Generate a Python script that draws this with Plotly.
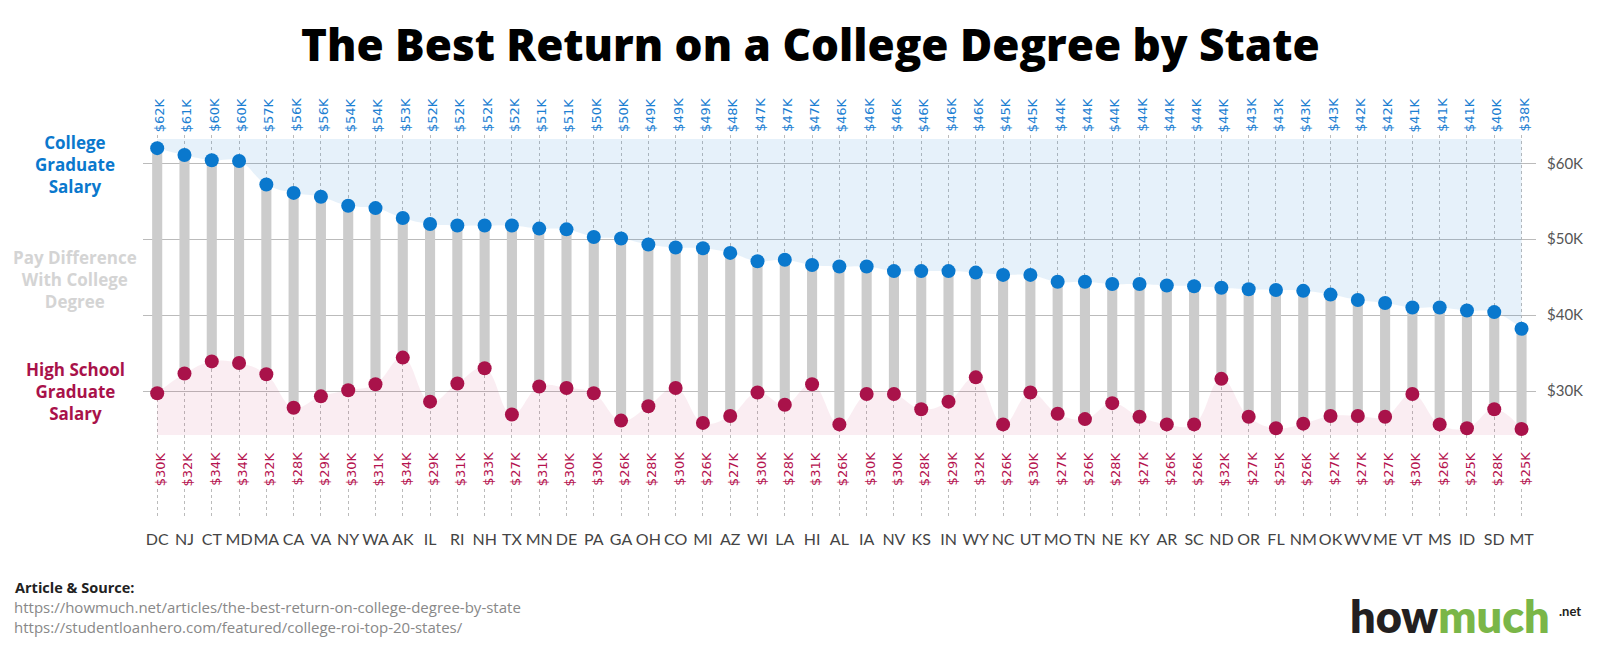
import plotly.graph_objects as go

states = ["DC", "NJ", "CT", "MD", "MA", "CA", "VA", "NY", "WA", "AK", "IL", "RI", "NH",
          "TX", "MN", "DE", "PA", "GA", "OH", "CO", "MI", "AZ", "WI", "LA", "HI", "AL",
          "IA", "NV", "KS", "IN", "WY", "NC", "UT", "MO", "TN", "NE", "KY", "AR", "SC",
          "ND", "OR", "FL", "NM", "OK", "WV", "ME", "VT", "MS", "ID", "SD", "MT"]

# salaries in $K
college = [62.0, 61.1, 60.4, 60.3, 57.2, 56.1, 55.6, 54.4, 54.1, 52.8, 52.0, 51.8, 51.8,
           51.8, 51.4, 51.3, 50.3, 50.1, 49.3, 48.9, 48.8, 48.2, 47.1, 47.3, 46.6, 46.4,
           46.4, 45.8, 45.8, 45.8, 45.6, 45.3, 45.3, 44.4, 44.4, 44.1, 44.1, 43.9, 43.8,
           43.6, 43.4, 43.3, 43.2, 42.7, 42.0, 41.6, 41.0, 41.0, 40.6, 40.4, 38.2]

high_school = [29.7, 32.3, 33.9, 33.7, 32.2, 27.8, 29.3, 30.1, 30.9, 34.4, 28.6, 31.0, 33.0,
               26.9, 30.6, 30.4, 29.7, 26.1, 28.0, 30.4, 25.8, 26.7, 29.8, 28.2, 30.9, 25.6,
               29.6, 29.6, 27.6, 28.6, 31.8, 25.6, 29.8, 27.0, 26.3, 28.4, 26.6, 25.6, 25.6,
               31.6, 26.6, 25.1, 25.7, 26.7, 26.7, 26.6, 29.6, 25.6, 25.1, 27.6, 25.0]

y_ticks = [30, 40, 50, 60]
y_tick_text = ["$30K", "$40K", "$50K", "$60K"]

sources = ["https://howmuch.net/articles/the-best-return-on-college-degree-by-state",
           "https://studentloanhero.com/featured/college-roi-top-20-states/"]

BLUE = "#0a78cd"
RED = "#a9124a"
W, H = 1600, 650
L, R, T, B = 143, 64, 135, 132
Y_TOP, Y_BOT = 63.73, 13.27


def py(p):
    # pixel row -> paper fraction
    return (H - B - p) / (H - T - B)


def px(p):
    return (p - L) / (W - L - R)


fig = go.Figure()

# light blue band above the college salaries
fig.add_trace(go.Scatter(x=states, y=[63.2] * len(states), mode="lines",
                         line=dict(width=0), hoverinfo="skip", showlegend=False))
fig.add_trace(go.Scatter(x=states, y=college, mode="lines", fill="tonexty",
                         fillcolor="rgba(30,130,210,0.11)",
                         line=dict(width=0, shape="spline", smoothing=1.2),
                         hoverinfo="skip", showlegend=False))

# pink band below the high school salaries
fig.add_trace(go.Scatter(x=states, y=[24.2] * len(states), mode="lines",
                         line=dict(width=0), hoverinfo="skip", showlegend=False))
fig.add_trace(go.Scatter(x=states, y=high_school, mode="lines", fill="tonexty",
                         fillcolor="rgba(190,30,90,0.08)",
                         line=dict(width=0, shape="spline", smoothing=1.2),
                         hoverinfo="skip", showlegend=False))

# pay difference bars
fig.add_trace(go.Bar(x=states, y=[c - h for c, h in zip(college, high_school)],
                     base=high_school, width=0.37, marker_color="#cccccc",
                     marker_line_width=0, showlegend=False))

fig.add_trace(go.Scatter(x=states, y=college, mode="markers",
                         marker=dict(size=14, color=BLUE), showlegend=False))
fig.add_trace(go.Scatter(x=states, y=high_school, mode="markers",
                         marker=dict(size=14, color=RED), showlegend=False))

ann = []
for s, c, h in zip(states, college, high_school):
    ann.append(dict(x=s, y=py(115), xref="x", yref="paper", text=f"${c:.0f}K",
                    textangle=-90, showarrow=False, xshift=3, yanchor="middle",
                    font=dict(family="DejaVu Sans", size=13, color="#1c80d2")))
    ann.append(dict(x=s, y=py(469), xref="x", yref="paper", text=f"${h:.0f}K",
                    textangle=-90, showarrow=False, xshift=3, yanchor="middle",
                    bgcolor="white", borderpad=0,
                    font=dict(family="DejaVu Sans", size=13, color="#b5134f")))

side_font = dict(family="Open Sans", size=17, weight=700)


def note(x, y, text, font, xanchor="center", align="center"):
    return dict(x=px(x), y=py(y), xref="paper", yref="paper", showarrow=False,
                xanchor=xanchor, yanchor="middle", align=align, text=text, font=font)


ann += [
    note(75, 165, "College<br>Graduate<br>Salary", dict(side_font, color=BLUE)),
    note(75, 279, "Pay Difference<br>With College<br>Degree", dict(side_font, color="#d4d4d4")),
    note(75, 391, "High School<br>Graduate<br>Salary", dict(side_font, color=RED)),
    note(810, 44, "The Best Return on a College Degree by State",
         dict(family="Open Sans", size=44, weight=800, color="#000000")),
    note(13, 587, "<b>Article & Source:</b>",
         dict(family="Open Sans", size=14.5, color="#222222"), xanchor="left"),
    note(12, 617, "<br>".join(sources),
         dict(family="Open Sans", size=15, color="#888888"), xanchor="left", align="left"),
    note(1552, 616, "<span style='color:#231f20'>how</span><span style='color:#7ab648'>much</span>",
         dict(family="Lato", size=45, weight=800), xanchor="right"),
    note(1557, 611, ".net", dict(family="Lato", size=13, weight=700, color="#231f20"),
         xanchor="left"),
]

fig.update_layout(
    width=W, height=H,
    margin=dict(l=L, r=R, t=T, b=B),
    plot_bgcolor="white", paper_bgcolor="white",
    annotations=ann,
    barmode="overlay",
    xaxis=dict(type="category", range=[-0.52, 50.53], showgrid=True, griddash="dot",
               gridcolor="#bbbbbb", gridwidth=1, ticks="", showline=False, zeroline=False,
               tickfont=dict(family="Lato", size=16, color="#444444"),
               ticklabelstandoff=10, tickangle=0, fixedrange=True),
    yaxis=dict(range=[Y_BOT, Y_TOP], side="right", tickvals=y_ticks, ticktext=y_tick_text,
               showgrid=True, gridcolor="#bbbbbb", gridwidth=1, zeroline=False,
               showline=False, ticks="", ticklabelstandoff=10,
               tickfont=dict(family="Lato", size=15, color="#555555"), fixedrange=True),
)

# page body has a default 8px margin; drop it so the figure sits at the window corner
fig.write_html("out.html", config={"displayModeBar": False},
               post_script="document.body.style.margin='0';")
